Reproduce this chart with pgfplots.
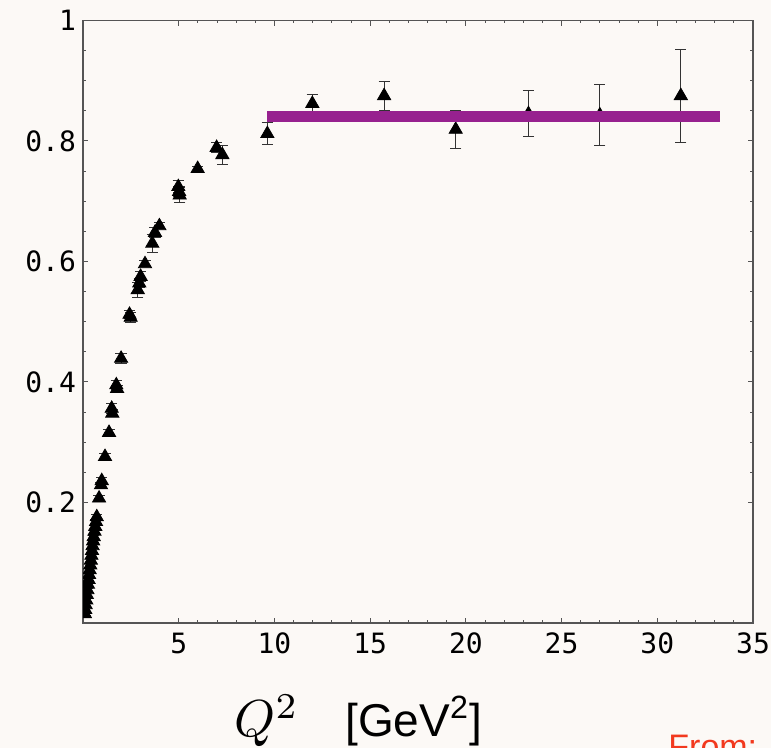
\documentclass[border=0pt]{standalone}
\usepackage{fontspec}
\usepackage{graphicx}
\usepackage{pgfplots}
\pgfplotsset{compat=1.18}
\newfontfamily\tickfont{DejaVu Sans Mono}
\newfontfamily\helv{Liberation Sans}
\definecolor{bgcol}{HTML}{FCF9F6}
\definecolor{barpurple}{HTML}{97218F}
\definecolor{srcred}{HTML}{F2391E}
\definecolor{framegray}{HTML}{555555}

% Q2, ratio, error
\pgfplotstableread{
x     y      e
0.10  0.015  0.003
0.12  0.022  0.003
0.14  0.030  0.003
0.17  0.038  0.003
0.20  0.047  0.003
0.23  0.055  0.003
0.26  0.064  0.003
0.29  0.072  0.003
0.32  0.080  0.003
0.35  0.088  0.003
0.38  0.096  0.003
0.41  0.104  0.003
0.44  0.112  0.003
0.47  0.120  0.003
0.50  0.128  0.003
0.53  0.136  0.003
0.56  0.143  0.003
0.60  0.152  0.003
0.64  0.160  0.003
0.68  0.168  0.003
0.72  0.176  0.004
0.84  0.207  0.005
0.94  0.229  0.005
0.98  0.236  0.006
1.15  0.276  0.005
1.36  0.316  0.005
1.50  0.356  0.008
1.53  0.348  0.006
1.74  0.395  0.008
1.78  0.389  0.006
1.99  0.439  0.008
2.43  0.512  0.006
2.49  0.507  0.008
2.86  0.553  0.012
2.94  0.564  0.008
3.01  0.575  0.008
3.24  0.596  0.005
3.62  0.630  0.015
3.76  0.648  0.008
3.99  0.659  0.005
4.98  0.724  0.010
5.02  0.716  0.008
5.05  0.710  0.012
5.99  0.754  0.004
6.98  0.789  0.008
7.28  0.777  0.016
9.63  0.812  0.018
11.98 0.862  0.015
15.73 0.875  0.024
19.47 0.819  0.032
23.27 0.845  0.038
27.00 0.843  0.050
31.23 0.875  0.077
}\ratiodata

\begin{document}
\begin{tikzpicture}
\fill[bgcol] (-41.5pt,-62.5pt) rectangle (344pt,311.5pt);
\begin{axis}[
  at={(0,0)}, anchor=south west,
  scale only axis,
  width=335pt, height=301.25pt,
  xmin=0, xmax=35, ymin=0, ymax=1,
  xtick={5,10,15,20,25,30,35},
  xticklabels={5,10,15,20,25,30,35},
  ytick={0.2,0.4,0.6,0.8,1},
  yticklabels={0.2,0.4,0.6,0.8,1},
  minor x tick num=4,
  minor y tick num=3,
  tick align=inside,
  major tick length=2.6pt,
  minor tick length=1.5pt,
  axis line style={draw=framegray, line width=0.6pt},
  tick style={draw=framegray, line width=0.5pt},
  ticklabel style={font=\tickfont\fontsize{14}{16}\selectfont},
  xticklabel style={yshift=-1.3pt},
  /pgf/number format/assume math mode=true,
  clip marker paths=true,
]
\addplot[only marks, mark=triangle*, mark size=3.8pt,
  mark options={fill=black, draw=black},
  error bars/.cd, y dir=both, y explicit,
  error bar style={line width=0.5pt, black!80},
  error mark options={rotate=90, mark size=2.8pt, line width=0.5pt, black!80}]
  table[x=x, y=y, y error=e] {\ratiodata};
\addplot[barpurple, line width=5.3pt, line cap=butt] coordinates {(9.62,0.841) (33.28,0.841)};
\end{axis}
\node[anchor=base west, inner sep=0] at (75.5pt,-57pt) {\scalebox{2.6}{$Q^2$}};
\node[anchor=base west, inner sep=0] at (131pt,-57pt) {\helv\fontsize{23}{27}\selectfont [GeV\textsuperscript{2}]};
\node[anchor=base west, inner sep=0, text=srcred] at (292.5pt,-68pt) {\helv\fontsize{17}{20}\selectfont From: I};
\pgfresetboundingbox
\path[use as bounding box] (-41.5pt,-62.5pt) rectangle (344pt,311.5pt);
\end{tikzpicture}
\end{document}
